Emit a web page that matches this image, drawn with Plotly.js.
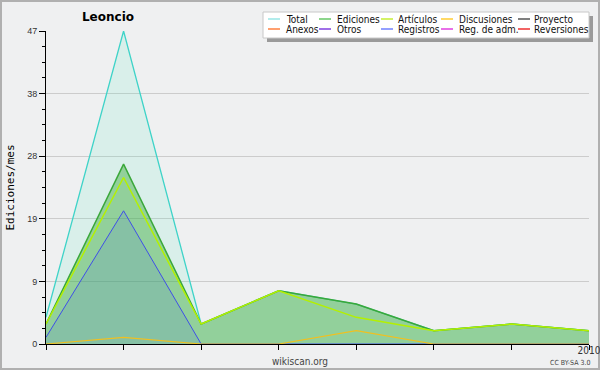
<!DOCTYPE html>
<html>
<head>
<meta charset="utf-8">
<script src="https://cdn.plot.ly/plotly-3.0.1.min.js"></script>
<style>html,body{margin:0;padding:0;background:#eff0f1;}#chart{width:600px;height:370px;}</style>
</head>
<body>
<div id="chart"></div>
<script>
// ---- data ----
var months = [0, 1, 2, 3, 4, 5, 6, 7];
var tickLabels = ['', '', '', '', '', '', '', '2010'];
var total = [4, 47, 3, 8, 6, 2, 3, 2];
var ediciones = [3, 27, 3, 8, 6, 2, 3, 2];
var articulos = [3, 25, 3, 8, 4, 2, 3, 2];
var discusiones = [0, 1, 0, 0, 2, 0, 0, 0];
var registros = [1, 20, 0, 0, 0, 0, 0, 0];
var yTickVals = [0, 9.4, 18.8, 28.2, 37.6, 47];
var yTickText = ['0', '9', '19', '28', '38', '47'];
var legendNames = ['Total', 'Ediciones', 'Artículos', 'Discusiones', 'Proyecto',
                   'Anexos', 'Otros', 'Registros', 'Reg. de adm.', 'Reversiones'];

// ---- styles ----
var legendColors = ['#99e6e6', '#66c766', '#c6ee33', '#ffcc33', '#555555',
                    '#ff8040', '#8040e0', '#7080ff', '#e040e0', '#ee3030'];

var W = 600, H = 370, L = 46, R = 589, T = 31, B = 344;
function px(x) { return (x - L) / (R - L); }
function py(y) { return (B - y) / (B - T); }

var traces = [
  {x: months, y: total, mode: 'lines', fill: 'tozeroy', line: {color: '#3ed3c8', width: 1.3},
   fillcolor: 'rgba(92,235,194,0.15)', showlegend: false, hoverinfo: 'skip'},
  {x: months, y: ediciones, mode: 'lines', fill: 'tozeroy', line: {color: '#3aa83a', width: 1.5},
   fillcolor: 'rgba(60,170,60,0.45)', showlegend: false, hoverinfo: 'skip'},
  {x: months, y: registros, mode: 'lines', fill: 'tozeroy', line: {color: '#3f4fe8', width: 1},
   fillcolor: 'rgba(70,110,230,0.15)', showlegend: false, hoverinfo: 'skip'},
  {x: months, y: articulos, mode: 'lines', line: {color: '#b4f000', width: 1.5},
   showlegend: false, hoverinfo: 'skip'},
  {x: months, y: discusiones, mode: 'lines', line: {color: '#f0c020', width: 1.2},
   showlegend: false, hoverinfo: 'skip'}
];

var shapes = [];
var annotations = [];
// outer border
shapes.push({type: 'rect', xref: 'paper', yref: 'paper', x0: px(1), x1: px(599), y0: py(369), y1: py(1),
  line: {color: '#b0b0b0', width: 2}, fillcolor: 'rgba(0,0,0,0)', layer: 'below'});
// legend shadow and box
shapes.push({type: 'rect', xref: 'paper', yref: 'paper', x0: px(267), x1: px(593), y0: py(42), y1: py(16),
  line: {width: 0}, fillcolor: '#9a9a9a', layer: 'above'});
shapes.push({type: 'rect', xref: 'paper', yref: 'paper', x0: px(263), x1: px(589), y0: py(38), y1: py(12),
  line: {color: '#c8c8c8', width: 1}, fillcolor: '#ffffff', layer: 'above'});
var colLine = [268, 319, 381, 441, 518];
var colText = [284, 335, 396, 457, 532];
var rowY = [19.5, 29.5];
for (var i = 0; i < legendNames.length; i++) {
  var c = i % 5, r = Math.floor(i / 5);
  shapes.push({type: 'line', xref: 'paper', yref: 'paper', x0: px(colLine[c]), x1: px(colLine[c] + 12),
    y0: py(rowY[r] - 0.5), y1: py(rowY[r] - 0.5), line: {color: legendColors[i], width: 1.5}, layer: 'above'});
  annotations.push({xref: 'paper', yref: 'paper', x: px(colText[c]), y: py(rowY[r]), text: legendNames[i],
    showarrow: false, xanchor: 'left', yanchor: 'middle',
    font: {family: 'DejaVu Sans Condensed, DejaVu Sans', size: 10, color: '#111'}});
}
annotations.push({xref: 'paper', yref: 'paper', x: px(300), y: py(361), text: 'wikiscan.org', showarrow: false,
  xanchor: 'center', yanchor: 'middle', font: {family: 'DejaVu Sans Condensed, DejaVu Sans', size: 10, color: '#444'}});
annotations.push({xref: 'paper', yref: 'paper', x: px(570), y: py(363), text: 'CC BY-SA 3.0', showarrow: false,
  xanchor: 'center', yanchor: 'middle', font: {family: 'DejaVu Sans Condensed, DejaVu Sans', size: 7, color: '#444'}});

var layout = {
  width: W, height: H,
  margin: {l: L, r: W - R, t: T, b: H - B, pad: 0},
  paper_bgcolor: '#eff0f1', plot_bgcolor: '#eff0f1',
  showlegend: false,
  title: {text: '<b>Leoncio</b>', x: 108 / W, xanchor: 'center', y: 1 - 17 / H, yanchor: 'middle',
    font: {family: 'DejaVu Sans', size: 12, color: '#000'}},
  xaxis: {range: [0, 7], tickvals: months, ticktext: tickLabels, showgrid: false, zeroline: false,
    showline: true, linecolor: '#000', linewidth: 1, ticks: 'outside', ticklen: 5, tickcolor: '#000',
    ticklabeloverflow: 'allow', ticklabelstandoff: -8,
    tickfont: {family: 'DejaVu Sans Condensed, DejaVu Sans', size: 10, color: '#333'}, fixedrange: true},
  yaxis: {range: [0, 47], tickvals: yTickVals, ticktext: yTickText, showgrid: true, gridcolor: '#cccccc',
    gridwidth: 1, zeroline: false, showline: true, linecolor: '#000', linewidth: 1, ticks: 'outside',
    ticklen: 6, tickcolor: '#000',
    minor: {dtick: 2.35, tick0: 0, ticks: 'outside', ticklen: 3, tickcolor: '#000', showgrid: false},
    tickfont: {family: 'Liberation Sans', size: 9, color: '#333'},
    title: {text: 'Ediciones/mes', standoff: 10, font: {family: 'DejaVu Sans Mono', size: 11, color: '#000'}},
    fixedrange: true},
  shapes: shapes,
  annotations: annotations
};

Plotly.newPlot('chart', traces, layout, {displayModeBar: false, staticPlot: true});
</script>
</body>
</html>
